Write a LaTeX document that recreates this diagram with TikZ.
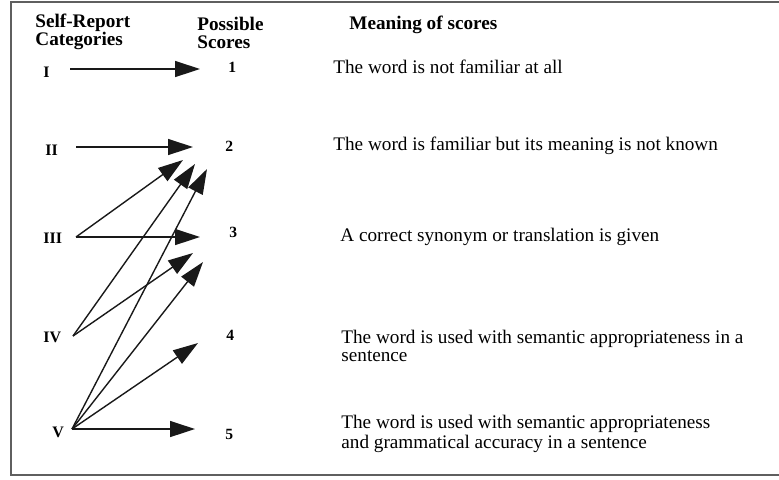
\documentclass[tikz,border=0pt]{standalone}
\usepackage{fontspec}
\setmainfont{Liberation Serif}
\usetikzlibrary{arrows.meta,positioning}
\definecolor{framegray}{RGB}{95,95,95}
\definecolor{inkgray}{RGB}{25,25,25}

\begin{document}
\begin{tikzpicture}[x=0.5pt,y=-0.5pt,
  every node/.style={font=\fontsize{9.6}{8.6}\selectfont,inner sep=0pt},
  head/.style={font=\fontsize{9.6}{9}\selectfont\bfseries,align=left,anchor=west},
  cat/.style={font=\fontsize{8}{9}\selectfont\bfseries,anchor=west},
  score/.style={font=\fontsize{7.8}{9}\selectfont\bfseries,anchor=west},
  meaning/.style={align=left,anchor=west},
  link/.style={draw=inkgray,line width=0.7pt,-{Triangle[length=12.5pt,width=8pt]}}]
  \useasboundingbox (0,0) rectangle (779,479);
  \draw[framegray,line width=1pt] (779,2) -- (11,2) -- (11,475) -- (779,475);

  % column heads
  \node[head] (hcat) at (35,32) {Self-Report\\Categories};
  \node[head] (hscore) at (197,33) {Possible\\Scores};
  \node[head] (hmean) at (349,25) {Meaning of scores};

  % self-report categories
  \node[cat] (c1) at (43,72) {I};
  \node[cat] (c2) at (45,150) {II};
  \node[cat] (c3) at (43,238) {III};
  \node[cat] (c4) at (43,337) {IV};
  \node[cat] (c5) at (52,432) {V};

  % scores
  \node[score] (s1) at (228,67) {1};
  \node[score] (s2) at (225,146) {2};
  \node[score] (s3) at (229,232) {3};
  \node[score] (s4) at (226,335) {4};
  \node[score] (s5) at (225,434) {5};

  % meanings
  \node[meaning] (m1) at (333,67) {The word is not familiar at all};
  \node[meaning] (m2) at (333,146) {The word is familiar but its meaning is not known};
  \node[meaning] (m3) at (340,237) {A correct synonym or translation is given};
  \node[meaning] (m4) at (341,346) {The word is used with semantic appropriateness in a\\sentence};
  \node[meaning] (m5) at (341,434) {The word is used with semantic appropriateness\\and grammatical accuracy in a sentence};

  % arrow ends
  \coordinate (oI) at (70,69);
  \coordinate (oII) at (76,147);
  \coordinate (oIII) at (76,237);
  \coordinate (oIV) at (73,336);
  \coordinate (oV) at (72,429);
  \coordinate (t1) at (200,69);
  \coordinate (t2) at (193,147);
  \coordinate (t2a) at (183,160);
  \coordinate (t2b) at (195,164);
  \coordinate (t2c) at (207,169);
  \coordinate (t3) at (200,237);
  \coordinate (t3a) at (193,253);
  \coordinate (t3b) at (203,262);
  \coordinate (t4) at (198,343);
  \coordinate (t5) at (195,429);

  \draw[link] (oI) -- (t1);
  \draw[link] (oII) -- (t2);
  \draw[link] (oIII) -- (t2a);
  \draw[link] (oIII) -- (t3);
  \draw[link] (oIV) -- (t2b);
  \draw[link] (oIV) -- (t3a);
  \draw[link] (oV) -- (t2c);
  \draw[link] (oV) -- (t3b);
  \draw[link] (oV) -- (t4);
  \draw[link] (oV) -- (t5);
\end{tikzpicture}
\end{document}
